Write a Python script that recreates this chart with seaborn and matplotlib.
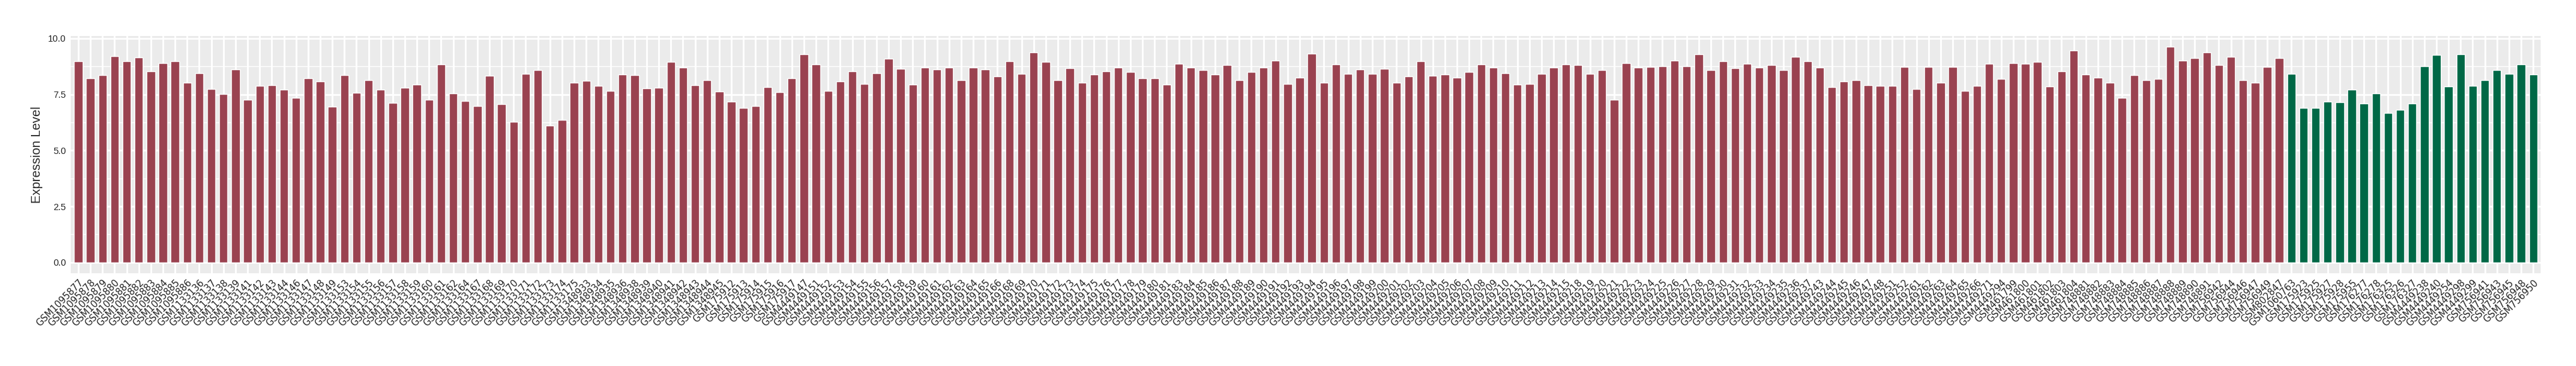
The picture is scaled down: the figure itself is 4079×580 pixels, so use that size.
import pandas as pd
import matplotlib
matplotlib.use("Agg")
import matplotlib.pyplot as plt
import seaborn as sns
from matplotlib.ticker import MultipleLocator

# sample ids, in plotting order
samples_a = (
    ["GSM10958%02d" % n for n in range(77, 87)]
    + ["GSM1133" + s for s in ["136", "137", "138", "139", "141", "142", "143", "144", "146", "147",
                               "148", "149", "153", "154", "155", "156", "157", "158", "159", "160",
                               "161", "162", "164", "167", "168", "169", "170", "171", "172", "173",
                               "174", "175"]]
    + ["GSM1348" + s for s in ["933", "934", "935", "936", "938", "939", "940", "941", "942", "943",
                               "944", "945"]]
    + ["GSM1759" + s for s in ["12", "13", "14", "15", "16", "17"]]
    + ["GSM4449147", "GSM4449151"]
    + ["GSM4449%d" % n for n in range(152, 167)]
    + ["GSM4449%d" % n for n in range(168, 182)]
    + ["GSM4449%d" % n for n in range(183, 216)]
    + ["GSM4449%d" % n for n in range(218, 238)]
    + ["GSM4449" + s for s in ["243", "244", "245", "246", "247", "248", "251", "252", "261", "262",
                               "263", "264", "265", "266", "271", "294"]]
    + ["GSM4617" + s for s in ["99"]] + ["GSM4618" + s for s in ["00", "01", "02", "03", "04"]]
    + ["GSM7488%d" % n for n in range(81, 92)]
    + ["GSM756942", "GSM756944", "GSM756946", "GSM756947", "GSM756949", "GSM802847"]
)
samples_b = ["GSM1060763", "GSM175923", "GSM175925", "GSM175927", "GSM175928", "GSM175955",
             "GSM176277", "GSM176278", "GSM176325", "GSM176326", "GSM176327",
             "GSM4449238", "GSM4449240", "GSM4449254", "GSM4449298", "GSM4449299",
             "GSM756941", "GSM756943", "GSM756945", "GSM756948", "GSM756950"]

# expression values
values_a = [
    8.97, 8.23, 8.35, 9.22, 8.97, 9.14, 8.54, 8.91, 8.99, 8.01,
    8.46, 7.73, 7.51, 8.61, 7.26, 7.87, 7.90, 7.70, 7.34, 8.23,
    8.07, 6.94, 8.35, 7.57, 8.15, 7.70, 7.11, 7.79, 7.95, 7.26,
    8.83, 7.54, 7.22, 6.98, 8.33, 7.06, 6.27, 8.41, 8.58, 6.10,
    6.35, 8.01, 8.10, 7.87, 7.67, 8.38, 8.35, 7.77, 7.79, 8.94,
    8.71, 7.90, 8.13, 7.62, 7.17, 6.89, 6.98, 7.82, 7.59, 8.21,
    9.28, 8.83, 7.65, 8.07, 8.52, 7.98, 8.46, 9.09, 8.63, 7.93,
    8.71, 8.61, 8.71, 8.15, 8.71, 8.61, 8.30, 8.97, 8.43, 9.37,
    8.94, 8.15, 8.66, 8.01, 8.38, 8.52, 8.71, 8.49, 8.23, 8.21,
    7.95, 8.86, 8.69, 8.58, 8.38, 8.80, 8.13, 8.49, 8.69, 9.02,
    7.98, 8.26, 9.33, 8.01, 8.83, 8.41, 8.61, 8.41, 8.63, 8.01,
    8.30, 8.99, 8.33, 8.38, 8.26, 8.49, 8.83, 8.71, 8.46, 7.95,
    7.98, 8.43, 8.69, 8.83, 8.80, 8.41, 8.58, 7.26, 8.91, 8.71,
    8.74, 8.77, 9.02, 8.77, 9.28, 8.58, 8.99, 8.66, 8.86, 8.69,
    8.80, 8.58, 9.17, 8.97, 8.69, 7.82, 8.07, 8.15, 7.90, 7.87,
    7.87, 8.74, 7.73, 8.74, 8.01, 8.74, 7.67, 7.87, 8.86, 8.18,
    8.91, 8.86, 8.94, 7.85, 8.54, 9.45, 8.38, 8.26, 8.01, 7.34,
    8.35, 8.13, 8.18, 9.62, 9.02, 9.11, 9.39, 8.80, 9.17, 8.15,
    8.01, 8.74, 9.11,
]
values_b = [8.41, 6.91, 6.89, 7.19, 7.14, 7.70, 7.09, 7.54, 6.66, 6.81,
            7.09, 8.77, 9.25, 7.85, 9.28, 7.87, 8.15, 8.58, 8.43, 8.83, 8.38]

df = pd.DataFrame({
    "sample": samples_a + samples_b,
    "value": values_a + values_b,
    "group": ["a"] * len(samples_a) + ["b"] * len(samples_b),
})

sns.set_style("darkgrid", {"axes.facecolor": "#EBEBEB", "grid.color": "white"})

fig = plt.figure(figsize=(40.8, 5.8), dpi=100)
ax = fig.add_axes([0.02757, 0.2538, 0.98596 - 0.02757, 0.9012 - 0.2538])

sns.barplot(data=df, x="sample", y="value", hue="group", order=df["sample"],
            palette={"a": "#9A4250", "b": "#006846"}, width=0.7, dodge=False,
            legend=False, saturation=1, ax=ax)

ax.set_xlim(-0.6, len(df) - 0.4)
ax.set_ylim(-0.48, 10.1)
ax.set_yticks([0, 2.5, 5, 7.5, 10])
ax.set_yticklabels(["0.0", "2.5", "5.0", "7.5", "10.0"], family="Liberation Sans", fontsize=10.5, color="#222222")
ax.yaxis.set_minor_locator(MultipleLocator(1.25))
ax.grid(which="major", color="white", linewidth=2)
ax.grid(which="minor", axis="y", color="white", linewidth=1)
ax.set_axisbelow(True)

ax.set_xticks(range(len(df)))
ax.set_xticklabels(df["sample"], rotation=45, ha="right", rotation_mode="anchor",
                   fontsize=10.5, family="DejaVu Sans", color="#222222")
ax.tick_params(axis="both", which="major", length=3.5, width=1, color="#333333", pad=2)
ax.tick_params(axis="y", which="minor", length=0)

ax.set_xlabel("")
ax.set_ylabel("Expression Level", family="Liberation Sans", fontsize=14.5, labelpad=6)
for s in ax.spines.values():
    s.set_visible(False)

fig.savefig("out.png", dpi=100, facecolor="white")
